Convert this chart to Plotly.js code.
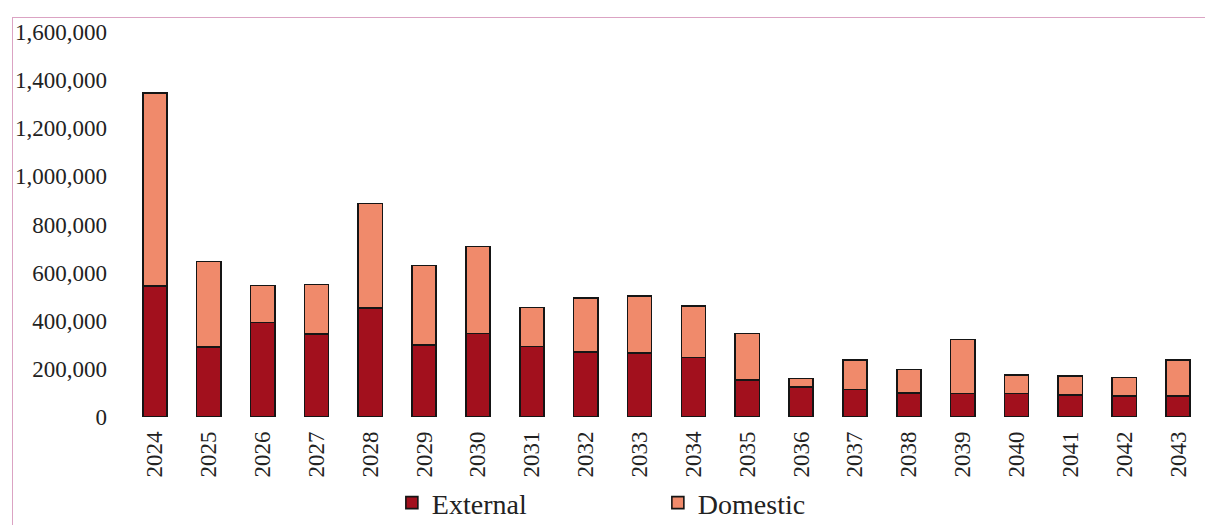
<!DOCTYPE html>
<html>
<head>
<meta charset="utf-8">
<script src="https://cdn.plot.ly/plotly-3.0.1.min.js"></script>
<style>
  html, body { margin: 0; padding: 0; background: #ffffff; }
  #chart { width: 1205px; height: 525px; position: relative; }
  #frame { position: absolute; left: 12px; top: 17px; width: 1193px; height: 508px;
           border-left: 1px solid #dba3c3; border-top: 1px solid #dba3c3; pointer-events: none; }
</style>
</head>
<body>
<div id="chart"></div>
<div id="frame"></div>
<script>
const years = ["2024","2025","2026","2027","2028","2029","2030","2031","2032","2033",
               "2034","2035","2036","2037","2038","2039","2040","2041","2042","2043"];
const external = [545000, 292000, 392000, 346000, 454000, 300000, 347000, 293000, 270000, 267000,
                  247000, 153000, 124000, 114000, 99000, 97000, 97000, 92000, 88000, 88000];
const domestic = [801000, 354000, 154000, 204000, 434000, 329000, 362000, 162000, 225000, 236000,
                  214000, 194000, 36000, 122000, 98000, 225000, 77000, 79000, 76000, 148000];
const yTickVals = [0, 200000, 400000, 600000, 800000, 1000000, 1200000, 1400000, 1600000];
const yTickText = ["0","200,000","400,000","600,000","800,000","1,000,000","1,200,000","1,400,000","1,600,000"];

const serif = "Liberation Serif, Times New Roman, serif";

const traces = [
  {
    type: "bar", name: "External", x: years, y: external,
    marker: { color: "#a2101d", line: { color: "#151515", width: 1.6 } }
  },
  {
    type: "bar", name: "Domestic", x: years, y: domestic,
    marker: { color: "#f08a6b", line: { color: "#151515", width: 1.6 } }
  }
];

const layout = {
  width: 1205, height: 525,
  barmode: "stack",
  bargap: 0.55,
  paper_bgcolor: "#ffffff",
  plot_bgcolor: "#ffffff",
  margin: { l: 128, r: 0, t: 32, b: 108, autoexpand: false },
  font: { family: serif, color: "#222222", size: 23 },
  showlegend: true,
  legend: {
    orientation: "h", x: 0.245, xanchor: "left",
    yref: "container", y: 0.042, yanchor: "middle",
    font: { family: serif, size: 28, color: "#222222" },
    entrywidth: 221, entrywidthmode: "pixels",
    bgcolor: "rgba(0,0,0,0)", traceorder: "normal"
  },
  xaxis: {
    type: "category", tickangle: -90, showgrid: false, zeroline: false, showline: false,
    ticks: "", tickfont: { family: serif, size: 23, color: "#222222" },
    ticklabelstandoff: 9, fixedrange: true, automargin: false
  },
  yaxis: {
    range: [0, 1600000], tickvals: yTickVals, ticktext: yTickText,
    showgrid: false, zeroline: false, showline: false, ticks: "",
    tickfont: { family: serif, size: 23, color: "#222222" },
    ticklabelstandoff: 20, fixedrange: true, automargin: false
  }
};

Plotly.newPlot("chart", traces, layout, { displayModeBar: false, staticPlot: true });
</script>
</body>
</html>
